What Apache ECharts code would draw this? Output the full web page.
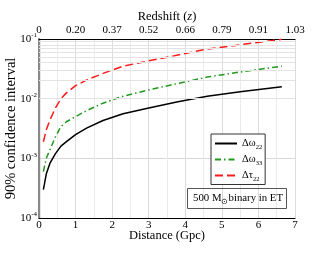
<!DOCTYPE html>
<html><head><meta charset="utf-8">
<script src="https://cdn.jsdelivr.net/npm/echarts@6/dist/echarts.min.js"></script>
<style>html,body{margin:0;padding:0;background:#fff}#c{width:332px;height:257px}</style>
</head><body><div id="c"></div>
<script>
const distances = [0.12, 0.2, 0.3, 0.45, 0.6, 0.75, 1.0, 1.3, 1.75, 2.3, 3.0, 3.8, 4.6, 5.5, 6.64];
const dOmega22 = [3.0e-4, 5.5e-4, 8.3e-4, 1.2e-3, 1.6e-3, 1.9e-3, 2.5e-3, 3.2e-3, 4.3e-3, 5.6e-3, 7.0e-3, 8.9e-3, 1.1e-2, 1.3e-2, 1.58e-2];
const dOmega33 = [6.0e-4, 1.0e-3, 1.4e-3, 2.3e-3, 3.4e-3, 4.1e-3, 5.0e-3, 6.3e-3, 8.4e-3, 1.1e-2, 1.4e-2, 1.8e-2, 2.3e-2, 2.8e-2, 3.5e-2];
const dTau22 = [1.9e-3, 3.0e-3, 4.4e-3, 7.0e-3, 1.0e-2, 1.25e-2, 1.65e-2, 2.05e-2, 2.65e-2, 3.5e-2, 4.3e-2, 5.4e-2, 6.8e-2, 8.0e-2, 9.9e-2];
const redshiftLabels = ['0', '0.20', '0.37', '0.52', '0.66', '0.79', '0.91', '1.03'];
const minorGridValues = [];
[1e-4, 1e-3, 1e-2].forEach(b => { for (let k = 2; k <= 9; k++) minorGridValues.push(b * k); });

const F = 'Liberation Serif';
const pair = (xs, ys) => xs.map((x, i) => [x, ys[i]]);
const chart = echarts.init(document.getElementById('c'), null, {renderer: 'canvas'});
chart.setOption({
  animation: false,
  textStyle: {fontFamily: F, color: '#000'},
  grid: {left: 39, right: 37, top: 39, bottom: 39, containLabel: false, outerBoundsMode: 'none'},
  title: {
    text: '{a|500 M}{s|\u2299}{a|binary in ET}',
    left: 187, top: 186,
    borderColor: '#555', borderWidth: 1, padding: [5, 4, 3, 6],
    textStyle: {fontWeight: 'normal', rich: {
      a: {fontFamily: F, fontSize: 10.8, fontWeight: 'normal', color: '#000'},
      s: {fontFamily: F, fontSize: 8, fontWeight: 'normal', color: '#000', padding: [7, 0, 0, 0]}
    }}
  },
  legend: {
    orient: 'vertical', left: 211, top: 134,
    backgroundColor: '#fff', borderColor: '#333', borderWidth: 1,
    padding: [4, 3, 2, 3], itemWidth: 22, itemHeight: 10, itemGap: 3.5,
    itemStyle: {opacity: 0},
    lineStyle: {opacity: 1},
    data: ['w22', 'w33', 't22'],
    formatter: n => ({w22: '{a|\u0394\u03c9}{s|22}', w33: '{a|\u0394\u03c9}{s|33}', t22: '{a|\u0394\u03c4}{s|22}'}[n]),
    textStyle: {rich: {
      a: {fontFamily: F, fontSize: 10.5, color: '#000'},
      s: {fontFamily: F, fontSize: 6.5, color: '#000', padding: [7, 0, 0, 0]}
    }}
  },
  xAxis: [{
    type: 'value', min: 0, max: 7, interval: 1, position: 'bottom',
    name: 'Distance (Gpc)', nameLocation: 'middle', nameGap: 11, nameMoveOverlap: false,
    nameTextStyle: {fontFamily: F, fontSize: 12.5, color: '#000'},
    axisLine: {lineStyle: {color: '#000', width: 1.2}},
    axisTick: {show: false},
    axisLabel: {fontFamily: F, fontSize: 11, color: '#000', margin: 2},
    splitLine: {show: true, lineStyle: {color: '#dcdcdc', width: 1}},
    minorTick: {show: false, splitNumber: 2},
    minorSplitLine: {show: true, lineStyle: {color: '#ebebeb', width: 1}}
  }, {
    type: 'value', min: 0, max: 7, interval: 1, position: 'top',
    name: '{a|Redshift (}{i|z}{a|)}', nameLocation: 'middle', nameGap: 16, nameMoveOverlap: false,
    nameTextStyle: {fontFamily: F, fontSize: 12.5, color: '#000', rich: {
      a: {fontFamily: F, fontSize: 12.5, color: '#000'},
      i: {fontFamily: F, fontStyle: 'italic', fontSize: 12.5, color: '#000'}}},
    axisLine: {lineStyle: {color: '#000', width: 1.2}},
    axisTick: {show: false},
    axisLabel: {fontFamily: F, fontSize: 11, color: '#000', margin: 3,
      formatter: v => redshiftLabels[Math.round(v)]},
    splitLine: {show: false}
  }],
  yAxis: [{
    type: 'log', logBase: 10, min: 1e-4, max: 1e-1, position: 'left',
    name: '90% confidence interval', nameLocation: 'middle', nameGap: 20, nameMoveOverlap: false,
    nameTextStyle: {fontFamily: F, fontSize: 14.5, color: '#000'},
    axisLine: {show: true, lineStyle: {color: '#000', width: 1.2}},
    axisTick: {show: false},
    axisLabel: {margin: 2,
      formatter: v => '{b|10}{e|' + Math.round(Math.log10(v)) + '}',
      rich: {
        b: {fontFamily: F, fontSize: 11, color: '#000'},
        e: {fontFamily: F, fontSize: 7, color: '#000', padding: [0, 0, 7, 0]}
      }},
    splitLine: {show: true, lineStyle: {color: '#d8d8d8', width: 1}}
  }, {
    type: 'log', logBase: 10, min: 1e-4, max: 1e-1, position: 'right',
    axisLine: {show: true, lineStyle: {color: '#888', width: 2}},
    axisTick: {show: false}, axisLabel: {show: false}, splitLine: {show: false}
  }],
  series: [
    {name: 'grid', type: 'line', data: [], z: 1, silent: true,
     markLine: {silent: true, symbol: 'none', label: {show: false},
       lineStyle: {color: '#e3e3e3', width: 1, type: 'solid'},
       data: minorGridValues.map(v => ({yAxis: v}))}},
    {name: 'w22', type: 'line', data: pair(distances, dOmega22), symbol: 'none', z: 3,
     lineStyle: {color: '#000', width: 1.5}, itemStyle: {color: '#000'}},
    {name: 'w33', type: 'line', data: pair(distances, dOmega33), symbol: 'none', z: 3,
     lineStyle: {color: '#1f9a1f', width: 1.5, type: [6, 3, 1.5, 3]}, itemStyle: {color: '#1f9a1f'}},
    {name: 't22', type: 'line', data: pair(distances, dTau22), symbol: 'none', z: 3,
     lineStyle: {color: '#ff1a1a', width: 1.5, type: [8, 4]}, itemStyle: {color: '#ff1a1a'}}
  ]
});
</script></body></html>
